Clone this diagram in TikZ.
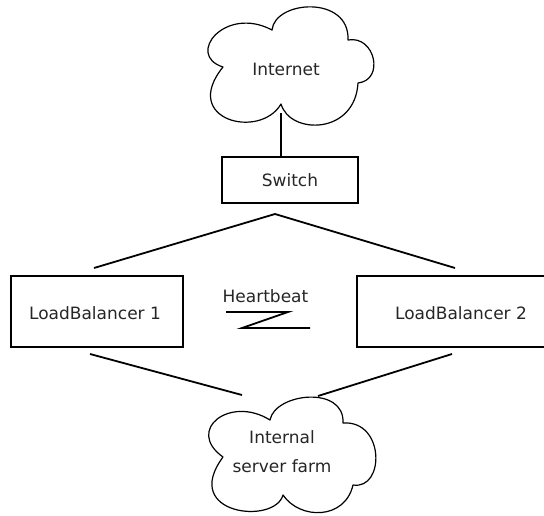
\documentclass[tikz,border=0pt]{standalone}
\usepackage{fontspec}
\setmainfont{DejaVu Sans}
\begin{document}
\begin{tikzpicture}[x=1pt,y=-1pt,
  lbl/.style={font=\fontsize{17}{29}\selectfont, text=black!85, inner sep=0pt},
  box/.style={draw, line width=1.8pt, inner sep=0pt},
  wire/.style={draw, line width=1.8pt},
  cloudline/.style={draw, line width=1.2pt, line join=round}]
\useasboundingbox (0,0) rectangle (544,515);
\clip (0,0) rectangle (544,515);
% Internet cloud
\draw[cloudline] (223,67) .. controls (185,55) and (225,5) .. (272,30)
  .. controls (275,0) and (350,-5) .. (348,40)
  .. controls (375,35) and (385,80) .. (358,83)
  .. controls (355,135) and (290,135) .. (281,104)
  .. controls (260,140) and (180,120) .. (223,67) -- cycle;
\node[lbl] (internet) at (286,69) {Internet};
% Internal server farm cloud
\draw[cloudline] (223,457) .. controls (185,430) and (230,395) .. (270,420)
  .. controls (275,393) and (345,385) .. (343,423)
  .. controls (385,420) and (385,490) .. (353,485)
  .. controls (345,520) and (300,520) .. (283,495)
  .. controls (275,525) and (180,515) .. (223,457) -- cycle;
\node[lbl, align=center] (farm) at (282,452) {Internal\\server farm};
% boxes
\node[box, minimum width=136pt, minimum height=46pt] (switch) at (290,180) {};
\node[lbl] (switchtxt) at (290,180) {Switch};
\node[box, minimum width=172pt, minimum height=71pt] (lb1) at (97,311.5) {};
\node[lbl] (lb1txt) at (95,313) {LoadBalancer 1};
\node[box, minimum width=208pt, minimum height=71pt] (lb2) at (461,311.5) {};
\node[lbl] (lb2txt) at (461,313) {LoadBalancer 2};
\node[lbl] (hb) at (265.5,296) {Heartbeat};
% connector points
\coordinate (inetbot) at (281,113);
\coordinate (apex) at (275,214);
\coordinate (lbonetop) at (94,268);
\coordinate (lbtwotop) at (455,268);
\coordinate (lbonebot) at (90,354);
\coordinate (lbtwobot) at (452,354);
\coordinate (farmleft) at (242,395);
\coordinate (farmright) at (318,396);
\coordinate (hbA) at (226,312);
\coordinate (hbB) at (288,312);
\coordinate (hbC) at (242,328);
\coordinate (hbD) at (310,328);
% connectors
\draw[wire] (inetbot) -- (inetbot |- switch.north);
\draw[wire] (lbonetop) -- (apex) -- (lbtwotop);
\draw[wire] (hbA) -- (hbB) -- (hbC) -- (hbD);
\draw[wire] (lbonebot) -- (farmleft);
\draw[wire] (lbtwobot) -- (farmright);
\end{tikzpicture}
\end{document}
